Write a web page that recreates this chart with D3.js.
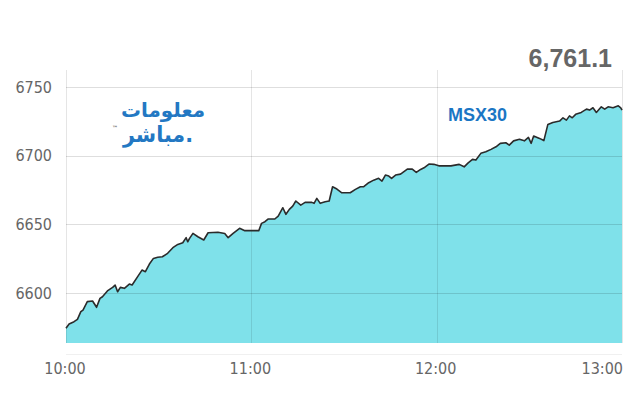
<!DOCTYPE html>
<html>
<head>
<meta charset="utf-8">
<script src="https://cdn.jsdelivr.net/npm/d3@7"></script>
<style>
  body { margin: 0; background: #fff; }
  svg { display: block; }
  .tick-label { font-family: "Liberation Sans Narrow", "DejaVu Sans Condensed", sans-serif; font-size: 16px; fill: #666; }
</style>
</head>
<body>
<script>
// 指数名と最終値
var indexName = "MSX30";
var lastValue = "6,761.1";
var logoLines = ["معلومات", "مباشر."];

// 時刻（10:00からの経過分）と値
var minutes = [0, 1, 2.6, 3.7, 4.8, 5.5, 6.9, 8.6, 9.9, 11, 11.8, 13.4, 15.1, 15.9, 16.7, 17.6, 18.9, 20.5, 21.4,
  23.2, 24.6, 25.7, 27, 28.3, 29.7, 31.2, 32.9, 34.6, 36.2, 37.8, 38.9, 39.4, 40, 41.1, 42.7, 44.6, 46, 49.2,
  51.4, 52.5, 54.1, 56.2, 57.9, 60.6, 62.4, 63.3, 64.4, 65.5, 67.6, 68.7, 70.2, 71.2, 72.3, 73.4, 74.4, 76,
  77.4, 79.6, 80.3, 81.2, 82.3, 83.9, 85.2, 86.3, 87.7, 89.3, 92, 93.7, 95.3, 96.4, 98, 99.6, 101.2, 102.3,
  103.4, 104.5, 105.4, 106.7, 108.3, 110.5, 112.1, 113.4, 114.8, 115.9, 117.5, 119.1, 120.7, 122.4, 124.6,
  127.3, 128.9, 130.2, 131.6, 132.7, 134.3, 135.9, 137.6, 139.2, 140.6, 142.4, 143.5, 144.9, 146.8, 148.4,
  149.7, 150.6, 151.4, 153.3, 154.7, 156, 157.6, 159.8, 160.9, 162, 163, 163.9, 165, 166.8, 168.5, 169.5,
  170.6, 171.7, 173.3, 174.4, 175.5, 177.1, 178.8, 179.6, 180];
var values = [6574.3, 6577.4, 6579.1, 6580.8, 6586.4, 6587.6, 6593.7, 6594.2, 6589.6, 6596.1, 6597.3, 6601.5,
  6604.1, 6605.8, 6600.9, 6604.1, 6603.4, 6606.5, 6605.8, 6611.9, 6616.7, 6615.5, 6621.1, 6625.2, 6626.0,
  6626.4, 6628.9, 6633.0, 6635.4, 6636.6, 6640.3, 6637.3, 6639.8, 6643.4, 6641.0, 6638.6, 6643.9, 6644.2,
  6643.4, 6640.3, 6643.4, 6647.1, 6645.4, 6645.4, 6645.4, 6650.7, 6651.9, 6653.9, 6653.9, 6656.0, 6662.1,
  6657.3, 6660.9, 6663.3, 6667.0, 6664.0, 6666.0, 6666.0, 6665.3, 6668.9, 6665.3, 6666.4, 6667.0, 6677.4,
  6675.7, 6673.0, 6673.0, 6675.5, 6677.4, 6677.4, 6680.3, 6682.2, 6683.5, 6681.5, 6685.9, 6685.2, 6683.5,
  6685.9, 6686.6, 6690.2, 6690.2, 6687.8, 6690.0, 6691.2, 6693.9, 6693.7, 6692.6, 6692.6, 6692.6, 6693.7,
  6691.9, 6694.8, 6697.3, 6696.8, 6701.7, 6702.8, 6704.6, 6706.5, 6709.0, 6709.4, 6707.7, 6710.8, 6711.9,
  6710.8, 6713.3, 6709.0, 6714.3, 6712.6, 6711.0, 6722.8, 6724.2, 6725.2, 6727.6, 6725.9, 6729.0, 6727.6,
  6730.1, 6731.5, 6733.9, 6733.2, 6734.9, 6731.5, 6735.6, 6733.9, 6735.6, 6734.9, 6736.3, 6734.9, 6733.2];

// 軸ラベル
var xTicks = ["10:00", "11:00", "12:00", "13:00"];
var yTicks = [6600, 6650, 6700, 6750];
var yMin = 6563.6, yMax = 6762.4;

var fullWidth = 640, fullHeight = 400;
var margin = {top: 70, right: 18, bottom: 57, left: 66},
    width = fullWidth - margin.left - margin.right,
    height = fullHeight - margin.top - margin.bottom;

var parseTime = d3.timeParse("%H:%M");
var t0 = parseTime(xTicks[0]);
var data = minutes.map((m, i) => ({date: new Date(+t0 + m * 60000), value: values[i]}));

var x = d3.scaleTime()
    .domain([t0, parseTime(xTicks[xTicks.length - 1])])
    .range([0, width]);
var y = d3.scaleLinear().domain([yMin, yMax]).range([height, 0]);

var svg = d3.select("body").append("svg")
    .attr("width", fullWidth)
    .attr("height", fullHeight);

var g = svg.append("g")
    .attr("transform", "translate(" + margin.left + "," + margin.top + ")");

// エリア
var area = d3.area()
    .x(d => x(d.date))
    .y0(height)
    .y1(d => y(d.value));
g.append("path").datum(data)
    .attr("d", area)
    .attr("fill", "#7fe1ea");

// グリッド（エリアの上に半透明で）
var grid = g.append("g").attr("class", "grid");
grid.selectAll("line.h").data(yTicks).enter().append("line")
    .attr("x1", 0).attr("x2", width)
    .attr("y1", d => Math.round(y(d)) + 0.5).attr("y2", d => Math.round(y(d)) + 0.5)
    .attr("stroke", "#000").attr("stroke-opacity", 0.13);
grid.selectAll("line.v").data(xTicks).enter().append("line")
    .attr("x1", d => Math.round(x(parseTime(d))) + 0.5).attr("x2", d => Math.round(x(parseTime(d))) + 0.5)
    .attr("y1", 0).attr("y2", height)
    .attr("stroke", "#000").attr("stroke-opacity", 0.1);

// 下の薄い線
g.append("line")
    .attr("x1", 0).attr("x2", width)
    .attr("y1", height + 11.5).attr("y2", height + 11.5)
    .attr("stroke", "#f0f0f0");

// ライン
var line = d3.line()
    .x(d => x(d.date))
    .y(d => y(d.value));
g.append("path").datum(data)
    .attr("d", line)
    .attr("fill", "none")
    .attr("stroke", "#2b2b2b")
    .attr("stroke-width", 1.6)
    .attr("stroke-linejoin", "round");

// Y軸ラベル
g.selectAll("text.ylab").data(yTicks).enter().append("text")
    .attr("class", "tick-label")
    .attr("x", -14)
    .attr("y", d => y(d))
    .attr("dy", "0.36em")
    .attr("text-anchor", "end")
    .text(d => d);

// X軸ラベル
g.selectAll("text.xlab").data(xTicks).enter().append("text")
    .attr("class", "tick-label")
    .attr("x", (d, i) => x(parseTime(d)) + (i === xTicks.length - 1 ? 1 : -1))
    .attr("y", height + 31)
    .attr("text-anchor", (d, i) => i === xTicks.length - 1 ? "end" : "middle")
    .text(d => d);

// 最終値
svg.append("text")
    .attr("x", 612).attr("y", 67)
    .attr("text-anchor", "end")
    .attr("font-family", "Liberation Sans, Arial, sans-serif")
    .attr("font-weight", "bold")
    .attr("font-size", 25)
    .attr("fill", "#666")
    .text(lastValue);

// 指数名
svg.append("text")
    .attr("x", 448).attr("y", 121)
    .attr("font-family", "Liberation Sans, Arial, sans-serif")
    .attr("font-weight", "bold")
    .attr("font-size", 18)
    .attr("fill", "#1b76c4")
    .text(indexName);

// ロゴ
var logo = svg.append("g").attr("font-family", "DejaVu Sans, sans-serif")
    .attr("font-weight", "bold").attr("fill", "#2378c3");
logo.append("text").attr("x", 205).attr("y", 117).attr("text-anchor", "end")
    .attr("font-size", 20).attr("textLength", 84).attr("lengthAdjust", "spacingAndGlyphs")
    .text(logoLines[0]);
logo.append("text").attr("x", 193).attr("y", 142).attr("text-anchor", "end")
    .attr("font-size", 22).attr("textLength", 70).attr("lengthAdjust", "spacingAndGlyphs")
    .text(logoLines[1]);
logo.append("text").attr("x", 112).attr("y", 130)
    .attr("font-size", 6).attr("fill", "#666").text("™");
</script>
</body>
</html>
